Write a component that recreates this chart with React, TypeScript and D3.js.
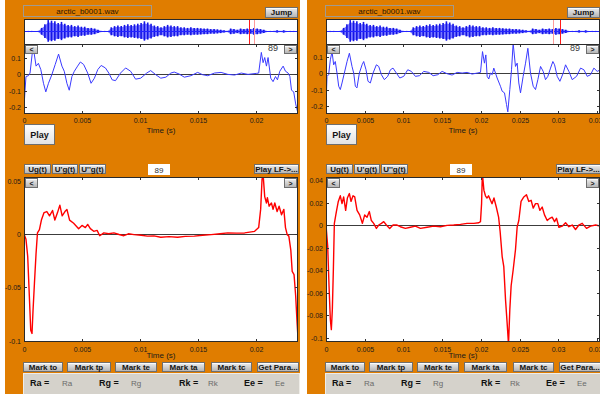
import React from "react";
import * as d3 from "d3";

type Pt = [number, number]; // [time in ms, amplitude]

const fileName = "arctic_b0001.wav";
const frameNumber = "89";

// overview of the whole file: envelope (fraction of full scale), evenly spaced
const overviewEnvelope = [
  0.05, 0.05, 0.05, 0.05, 0.05, 0.3, 0.6, 0.95, 0.9, 0.85, 0.7, 0.8, 0.65, 0.55, 0.55, 0.45,
  0.5, 0.4, 0.4, 0.3, 0.3, 0.25, 0.15, 0.05, 0.05, 0.05, 0.35, 0.45, 0.5, 0.45, 0.55, 0.6,
  0.55, 0.6, 0.65, 0.7, 0.85, 0.75, 0.65, 0.5, 0.45, 0.35, 0.45, 0.55, 0.5, 0.45, 0.45, 0.35,
  0.35, 0.3, 0.35, 0.3, 0.3, 0.28, 0.25, 0.25, 0.2, 0.2, 0.18, 0.15, 0.1, 0.05, 0.25, 0.2,
  0.15, 0.25, 0.2, 0.25, 0.2, 0.3, 0.25, 0.2, 0.15, 0.05, 0.05, 0.05, 0.1, 0.05, 0.1, 0.05,
  0.05, 0.05, 0.05,
];
const cursorsA = [0.822, 0.84];
const cursorsB = [0.828, 0.854];

// speech frame (blue), left and right windows
const speechA: Pt[] = [
  [0, -0.202], [0.09, -0.098], [0.17, -0.015], [0.38, -0.01], [0.52, 0.006], [0.72, 0.131],
  [0.84, 0.142], [1.04, 0.048], [1.24, 0.065], [1.45, 0.027], [1.68, -0.056], [1.88, -0.108],
  [2.11, -0.056], [2.4, -0.004], [2.69, 0.058], [2.98, 0.121], [3.27, 0.048], [3.47, 0.017],
  [3.7, -0.056], [3.9, -0.098], [4.13, -0.015], [4.34, 0.017], [4.62, 0.048], [4.86, 0.073],
  [5.14, 0.058], [5.49, 0.006], [5.78, -0.056], [6.07, -0.025], [6.36, 0.027], [6.65, 0.052],
  [7.02, 0.037], [7.31, 0.006], [7.6, -0.035], [7.89, -0.04], [8.32, 0.006], [8.76, 0.037],
  [9.19, 0.017], [9.62, -0.031], [10.06, -0.025], [10.58, 0.006], [10.92, 0.021], [11.36, -0.004],
  [11.79, -0.025], [12.23, -0.019], [12.66, 0.006], [12.95, 0.012], [13.38, 0], [13.82, -0.019],
  [14.39, -0.01], [14.97, 0.01], [15.4, -0.004], [15.84, -0.01], [16.42, 0.006], [16.99, 0.01],
  [17.57, -0.002], [18.15, -0.006], [18.73, 0.006], [19.31, -0.002], [20.03, 0.004], [20.23, 0.006],
  [20.46, 0.131], [20.61, 0.069], [20.75, 0.1], [20.9, 0.048], [21.04, 0.1], [21.27, -0.025],
  [21.47, -0.046], [21.68, -0.015], [21.85, -0.035], [22.05, 0.017], [22.34, 0.048], [22.54, 0.017],
  [22.77, 0.006], [22.92, -0.015], [23.06, -0.098], [23.25, -0.108], [23.42, -0.181], [23.6, -0.233],
];
const speechB: Pt[] = [
  [0, -0.2], [0.13, -0.02], [0.34, -0.01], [0.56, 0.08], [0.78, 0.13], [0.99, 0.05], [1.2, 0.07],
  [1.42, 0], [1.64, -0.08], [1.85, -0.1], [2.07, -0.06], [2.37, 0], [2.72, 0.07], [3.02, 0.12],
  [3.36, 0.04], [3.58, 0], [3.79, -0.08], [4.0, -0.09], [4.31, 0], [4.66, 0.05], [4.87, 0.07],
  [5.17, 0.02], [5.43, -0.05], [5.73, -0.06], [6.08, 0], [6.51, 0.05], [6.81, 0.04], [7.16, -0.01],
  [7.54, -0.04], [7.97, -0.02], [8.32, 0.02], [8.66, 0.03], [9.09, 0], [9.53, -0.03], [10.04, -0.02],
  [10.56, 0.02], [11.03, 0.01], [11.55, -0.02], [12.07, -0.016], [12.63, 0.01], [13.28, 0.004],
  [13.84, -0.016], [14.44, -0.01], [15.0, 0.01], [15.65, -0.004], [16.29, -0.012], [16.94, 0.004],
  [17.59, 0], [18.23, 0.004], [18.88, -0.006], [19.53, 0], [19.96, 0.004], [20.22, 0.13],
  [20.47, 0.06], [20.65, 0.11], [20.82, -0.02], [21.03, -0.036], [21.25, 0], [21.47, -0.01],
  [21.68, 0.03], [22.11, -0.03], [22.54, -0.08], [22.76, -0.11], [23.06, -0.12], [23.32, -0.19],
  [23.49, -0.235], [23.75, -0.1], [23.97, 0.02], [24.18, 0.18], [24.48, 0.04], [24.7, 0.06],
  [24.91, -0.06], [25.13, -0.12], [25.47, -0.02], [25.78, 0.06], [26.08, 0.15], [26.42, 0],
  [26.77, -0.08], [27.07, -0.1], [27.37, -0.04], [27.72, 0.04], [28.06, 0.01], [28.36, -0.04],
  [28.66, -0.02], [29.01, 0.03], [29.31, 0.07], [29.53, 0.05], [29.87, -0.02], [30.22, -0.05],
  [30.65, 0], [30.95, 0.05], [31.38, 0.01], [31.81, -0.04], [32.37, -0.02], [32.89, 0.03],
  [33.32, 0.02], [33.75, -0.02], [34.18, -0.01], [34.61, 0.03], [35.04, 0.01], [35.47, 0.02],
];

// glottal flow derivative (red)
const flowA: Pt[] = [
  [0, 0], [0.17, -0.005], [0.32, -0.021], [0.46, -0.058], [0.58, -0.09], [0.69, -0.093],
  [0.78, -0.071], [0.9, -0.046], [1.04, -0.018], [1.16, 0.001], [1.33, 0.004], [1.5, 0.013],
  [1.73, 0.02], [1.97, 0.021], [2.2, 0.017], [2.46, 0.022], [2.66, 0.013], [2.89, 0.02],
  [3.09, 0.027], [3.29, 0.017], [3.53, 0.021], [3.7, 0.023], [3.93, 0.013], [4.28, 0.01],
  [4.71, 0.005], [5.0, 0.008], [5.29, 0.006], [5.49, 0.009], [5.72, 0.005], [6.01, 0.0025],
  [6.3, 0.0034], [6.53, -0.0016], [6.88, 0.001], [7.3, 0.0002], [7.75, 0.001], [8.2, -0.0005],
  [8.61, -0.0016], [9.0, 0.0002], [9.48, -0.0006], [10.1, -0.0012], [10.64, -0.002], [11.2, -0.0018],
  [11.79, -0.003], [12.5, -0.0025], [13.24, -0.003], [13.9, -0.0022], [14.68, -0.002],
  [15.4, -0.0012], [16.13, -0.0006], [16.9, 0.0002], [17.57, 0.001], [18.3, 0.0008], [19.02, 0.001],
  [19.88, 0.0025], [20.23, 0.006], [20.4, 0.023], [20.52, 0.051], [20.61, 0.056], [20.75, 0.035],
  [20.9, 0.029], [20.98, 0.034], [21.13, 0.026], [21.33, 0.029], [21.47, 0.023], [21.62, 0.029],
  [21.82, 0.021], [21.99, 0.026], [22.2, 0.018], [22.4, 0.023], [22.54, 0.006], [22.69, -0.0006],
  [22.83, -0.002], [23.0, -0.015], [23.12, -0.035], [23.28, -0.038], [23.42, -0.058],
  [23.54, -0.083], [23.63, -0.099],
];
const flowB: Pt[] = [
  [0, 0], [0.22, -0.019], [0.39, -0.054], [0.56, -0.084], [0.69, -0.093], [0.82, -0.075],
  [0.95, -0.04], [1.08, 0.0015], [1.34, 0.012], [1.59, 0.021], [1.85, 0.026], [2.07, 0.019],
  [2.28, 0.025], [2.54, 0.013], [2.76, 0.024], [3.02, 0.028], [3.23, 0.021], [3.49, 0.026],
  [3.71, 0.025], [4.01, 0.013], [4.35, 0.009], [4.7, 0.0015], [5.0, 0.009], [5.3, 0.007],
  [5.6, 0.012], [5.86, 0.004], [6.16, 0.0015], [6.51, -0.003], [6.81, 0], [7.16, 0.0015],
  [7.46, 0.003], [7.8, 0], [8.23, -0.003], [8.66, 0], [9.18, 0], [9.6, -0.0015], [10.26, -0.003],
  [10.9, -0.002], [11.55, -0.001], [12.2, -0.003], [13.06, -0.002], [13.92, -0.001],
  [14.78, -0.0015], [15.65, -0.0003], [16.5, 0], [17.37, 0.0006], [18.23, 0.0015], [19.1, 0.0015],
  [19.74, 0.002], [19.96, 0.003], [20.1, 0.019], [20.2, 0.046], [20.4, 0.031], [20.6, 0.026],
  [20.8, 0.024], [21.0, 0.026], [21.25, 0.022], [21.45, 0.019], [21.7, 0.024], [22.0, 0.016],
  [22.3, 0.007], [22.5, -0.006], [22.76, -0.028], [22.97, -0.037], [23.19, -0.066], [23.4, -0.087],
  [23.58, -0.106], [23.75, -0.075], [23.92, -0.054], [24.18, -0.04], [24.48, -0.022], [24.7, -0.0015],
  [24.91, 0.004], [25.2, 0.021], [25.56, 0.025], [25.9, 0.027], [26.2, 0.021], [26.5, 0.022],
  [26.77, 0.015], [27.07, 0.019], [27.37, 0.019], [27.63, 0.013], [27.93, 0.016], [28.23, 0.009],
  [28.58, 0.004], [28.92, 0.006], [29.22, 0.007], [29.53, 0.003], [29.78, 0.006], [30.09, -0.002],
  [30.52, -0.001], [30.95, 0.002], [31.38, -0.0015], [31.81, 0], [32.24, -0.004], [32.67, 0],
  [33.1, 0.0015], [33.66, -0.003], [34.18, -0.001], [34.83, 0], [35.47, -0.001],
];

const timeTicksA = [0, 0.005, 0.01, 0.015, 0.02];
const timeTicksB = [0, 0.005, 0.01, 0.015, 0.02, 0.025, 0.03, 0.035];
const speechYTicks = [0.1, 0, -0.1, -0.2];
const flowYTicksA = [0.05, 0, -0.05, -0.1];
const flowYTicksB = [0.04, 0.02, 0, -0.02, -0.04, -0.06, -0.08, -0.1];
const flowButtons = ["Ug(t)", "U'g(t)", "U''g(t)"];
const markButtons = ["Mark to", "Mark tp", "Mark te", "Mark ta", "Mark tc", "Get Para..."];
const paramNames = ["Ra", "Rg", "Rk", "Ee"];

const FONT = "'Liberation Sans', Arial, Helvetica, sans-serif";
const ORANGE = "#e07d00";

function Button({ x, y, w, h, label, size = 8, white = false }: any) {
  return (
    <g>
      <rect x={x + 0.5} y={y + 0.5} width={w - 1} height={h - 1}
        fill={white ? "url(#btnWhite)" : "url(#btnGray)"} stroke="#6e6e6e" />
      <line x1={x + 1} x2={x + w - 1} y1={y + 1.5} y2={y + 1.5} stroke="#fbfbfb" />
      <text x={x + w / 2} y={y + h / 2 + size * 0.36} textAnchor="middle" fontSize={size}
        fontWeight={700} fontFamily={FONT} fill="#141414">{label}</text>
    </g>
  );
}

function Plot({ id, x0, y0, w, h, xMax, yDomain, xTicks, yTicks, data, color, lw, labelY, titleY }: any) {
  const x = d3.scaleLinear().domain([0, xMax]).range([x0, x0 + w]);
  const y = d3.scaleLinear().domain(yDomain).range([y0 + h, y0]);
  const line = d3.line<Pt>().x(d => x(d[0] / 1000)).y(d => y(d[1]));
  const zy = Math.round(y(0)) + 0.5;
  return (
    <g>
      <clipPath id={id}><rect x={x0} y={y0} width={w} height={h} /></clipPath>
      <rect x={x0} y={y0} width={w} height={h} fill="#fff" />
      <line x1={x0} x2={x0 + w} y1={zy} y2={zy} stroke="#3c3c3c" />
      <path d={line(data) || ""} fill="none" stroke={color} strokeWidth={lw}
        strokeLinejoin="round" clipPath={`url(#${id})`} />
      {xTicks.map((t: number) => {
        const px = Math.round(x(t)) + 0.5;
        return (
          <g key={"x" + t}>
            <line x1={px} x2={px} y1={y0} y2={y0 + 3} stroke="#333" />
            <line x1={px} x2={px} y1={y0 + h} y2={y0 + h - 3} stroke="#333" />
            <text x={px} y={labelY} textAnchor="middle" fontSize={7} fontFamily={FONT} fill="#1a1a1a">{String(t)}</text>
          </g>
        );
      })}
      {yTicks.map((t: number) => {
        const py = Math.round(y(t)) + 0.5;
        return (
          <g key={"y" + t}>
            <line x1={x0} x2={x0 + 3} y1={py} y2={py} stroke="#333" />
            <line x1={x0 + w} x2={x0 + w - 3} y1={py} y2={py} stroke="#333" />
            <text x={x0 - 3} y={py + 2.5} textAnchor="end" fontSize={7} fontFamily={FONT} fill="#1a1a1a">{String(t)}</text>
          </g>
        );
      })}
      <rect x={x0 + 0.5} y={y0 + 0.5} width={w - 1} height={h - 1} fill="none" stroke="#2a2a2a" />
      <text x={x0 + w / 2} y={titleY} textAnchor="middle" fontSize={8} fontFamily={FONT} fill="#1a1a1a">Time (s)</text>
    </g>
  );
}

function Panel({ ox, tag, speech, flow, xMax, timeTicks, speechDomain, flowDomain, flowTicks, cursors, cursorColors }: any) {
  const ax = ox + 24;
  const aw = 274;
  const ov = d3.scaleLinear().domain([0, overviewEnvelope.length - 1]).range([ax + 1, ax + aw - 1]);
  const amp = d3.scaleLinear().domain([0, 1]).range([0, 12]);
  const mid = 31.5;
  const env = d3.area<number>().x((_, i) => ov(i)).y0(d => mid + amp(d) * 0.8).y1(d => mid - amp(d) * 0.8);
  const fx = d3.scaleLinear().domain([0, 1]).range([ax, ax + aw]);
  const markX = [23, 67, 115, 162, 211, 257];
  const markW = [40, 44, 42, 43, 41, 42];
  const flowX = [24, 52, 79];
  const flowW = [27, 26, 27];
  const labelX = [30, 99, 179, 244];
  const valueX = [62, 131, 208, 275];
  return (
    <g>
      <rect x={ox + 5} y={0} width={295} height={394} fill={ORANGE} />
      {/* file name and jump */}
      <rect x={ox + 23.5} y={5.5} width={128} height={11} fill={ORANGE} stroke="#a09a90" />
      <text x={ox + 87.5} y={14} textAnchor="middle" fontSize={8} fontFamily={FONT} fill="#2b1600">{fileName}</text>
      <Button x={ox + 265} y={7} w={33} h={11} label="Jump" />
      {/* overview */}
      <rect x={ax} y={19} width={aw} height={25} fill="#fff" />
      <path d={env(overviewEnvelope) || ""} fill="#6464ff" fillOpacity={0.85} />
      {overviewEnvelope.map((d, i) => (
        <line key={i} x1={ov(i)} x2={ov(i)} y1={mid - amp(d)} y2={mid + amp(d) * 0.9}
          stroke="#1414e6" strokeWidth={1.6} />
      ))}
      <line x1={ax} x2={ax + aw} y1={mid} y2={mid} stroke="#2424ff" strokeWidth={1.2} />
      {cursors.map((c: number, i: number) => (
        <line key={i} x1={Math.round(fx(c)) + 0.5} x2={Math.round(fx(c)) + 0.5} y1={19} y2={44}
          stroke={cursorColors[i]} strokeWidth={1} />
      ))}
      <rect x={ax + 0.5} y={19.5} width={aw - 1} height={25} fill="none" stroke="#2a2a2a" />
      {/* speech frame */}
      <Plot id={tag + "s"} x0={ax} y0={44} w={aw} h={70} xMax={xMax} yDomain={speechDomain}
        xTicks={timeTicks} yTicks={speechYTicks} data={speech} color="#3a3aff" lw={1}
        labelY={123} titleY={133} />
      <Button x={ax + 1} y={45} w={13} h={9} label="<" size={7} />
      <Button x={ax + aw - 14} y={45} w={13} h={9} label=">" size={7} />
      <text x={ox + 278} y={51} textAnchor="end" fontSize={9} fontFamily={FONT} fill="#3a3a3a">{frameNumber}</text>
      <Button x={ox + 24} y={124} w={31} h={21} label="Play" size={9} white />
      {/* flow controls */}
      {flowButtons.map((b, i) => (
        <Button key={b} x={ox + flowX[i]} y={164} w={flowW[i]} h={10} label={b} />
      ))}
      <rect x={ox + 148} y={164} width={22} height={11} fill="#fff" />
      <text x={ox + 159} y={172.5} textAnchor="middle" fontSize={8} fontFamily={FONT} fill="#333">{frameNumber}</text>
      <Button x={ox + 254} y={164} w={45} h={10} label="Play LF->..." />
      {/* flow derivative */}
      <Plot id={tag + "f"} x0={ax} y0={177} w={aw} h={165} xMax={xMax} yDomain={flowDomain}
        xTicks={timeTicks} yTicks={flowTicks} data={flow} color="#ff0000" lw={1.4}
        labelY={352} titleY={357.5} />
      <Button x={ax + 1} y={178} w={13} h={10} label="<" size={7} />
      <Button x={ax + aw - 14} y={178} w={13} h={10} label=">" size={7} />
      {markButtons.map((b, i) => (
        <Button key={b} x={ox + markX[i]} y={362} w={markW[i]} h={10} label={b} />
      ))}
      <rect x={ox + 23.5} y={373.5} width={276} height={22} fill="#d5d2cb" stroke="#efede8" />
      {paramNames.map((p, i) => (
        <g key={p}>
          <text x={ox + labelX[i]} y={386} fontSize={9} fontWeight={700} fontFamily={FONT} fill="#111">{p + " ="}</text>
          <text x={ox + valueX[i]} y={386} fontSize={8} fontFamily={FONT} fill="#6a6a6a">{p}</text>
        </g>
      ))}
    </g>
  );
}

export default function App() {
  return (
    <div style={{ position: "absolute", left: 0, top: 0 }}>
      <svg width={600} height={394} style={{ display: "block" }}>
        <defs>
          <linearGradient id="btnGray" x1="0" y1="0" x2="0" y2="1">
            <stop offset="0" stopColor="#f0f0f0" />
            <stop offset="1" stopColor="#b2b2b2" />
          </linearGradient>
          <linearGradient id="btnWhite" x1="0" y1="0" x2="0" y2="1">
            <stop offset="0" stopColor="#ffffff" />
            <stop offset="1" stopColor="#e2e2e2" />
          </linearGradient>
        </defs>
        <rect width={600} height={394} fill="#fff" />
        <Panel ox={0} tag="a" speech={speechA} flow={flowA} xMax={0.02362} timeTicks={timeTicksA}
          speechDomain={[-0.242, 0.182]} flowDomain={[-0.101, 0.0533]} flowTicks={flowYTicksA}
          cursors={cursorsA} cursorColors={["#ff1a1a", "#ff9a9a"]} />
        <Panel ox={302} tag="b" speech={speechB} flow={flowB} xMax={0.0354} timeTicks={timeTicksB}
          speechDomain={[-0.248, 0.176]} flowDomain={[-0.104, 0.0427]} flowTicks={flowYTicksB}
          cursors={cursorsB} cursorColors={["#ff9a9a", "#ff1a1a"]} />
      </svg>
    </div>
  );
}
